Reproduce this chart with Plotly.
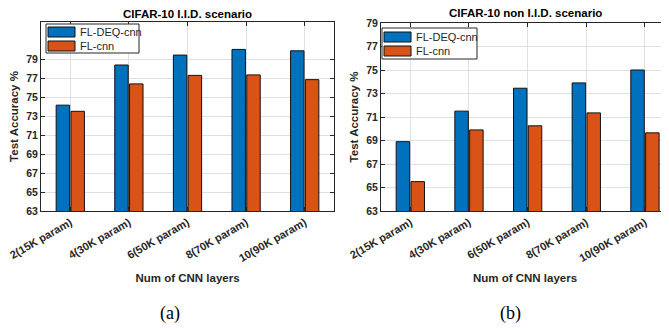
import plotly.graph_objects as go

# ---- data ----
categories = ["2(15K param)", "4(30K param)", "6(50K param)", "8(70K param)", "10(90K param)"]
series_names = ["FL-DEQ-cnn", "FL-cnn"]
iid_deq = [74.2, 78.45, 79.5, 80.1, 79.95]
iid_cnn = [73.55, 76.45, 77.35, 77.4, 76.9]
noniid_deq = [68.9, 71.5, 73.45, 73.9, 75.0]
noniid_cnn = [65.5, 69.9, 70.25, 71.35, 69.65]
iid_ticks = [63, 65, 67, 69, 71, 73, 75, 77, 79]
noniid_ticks = [63, 65, 67, 69, 71, 73, 75, 77, 79]
titles = ["CIFAR-10 I.I.D. scenario", "CIFAR-10 non I.I.D. scenario"]
x_title = "Num of CNN layers"
y_title = "Test Accuracy %"
sub_labels = ["(a)", "(b)"]

# page is 669x330; the figure div sits at the default 8px body margin
OFF = 8
W, H = 669 - OFF, 330 - OFF
BLUE = "#0072BD"
ORANGE = "#D95319"
AX = "#262626"
GRID = "#e0e0e0"
FONT = "Liberation Sans"


def px(x):
    return (x - OFF) / W


def py(y):
    return 1 - (y - OFF) / H


fig = go.Figure()
colors = [BLUE, ORANGE]
for (vals, xa, ya) in [((iid_deq, iid_cnn), "x", "y"), ((noniid_deq, noniid_cnn), "x2", "y2")]:
    for i, v in enumerate(vals):
        fig.add_trace(go.Bar(
            x=categories, y=v, name=series_names[i], xaxis=xa, yaxis=ya,
            marker=dict(color=colors[i], line=dict(color="#111111", width=1)),
            showlegend=False,
        ))

ytickfont = dict(family=FONT, size=10.5, color=AX, weight="bold")
xtickfont = dict(family=FONT, size=11, color=AX, weight="bold")
common_x = dict(type="category", tickangle=-30, ticks="inside", ticklen=4, tickcolor=AX,
                showline=True, linecolor=AX, linewidth=1, showgrid=True, gridcolor=GRID,
                tickfont=xtickfont, zeroline=False, automargin=False,
                title=dict(text=x_title, font=dict(family=FONT, size=11.5, color=AX, weight="bold"), standoff=10))
common_y = dict(ticks="inside", ticklen=4, tickcolor=AX, showline=True, linecolor=AX, linewidth=1,
                showgrid=True, gridcolor=GRID, tickfont=ytickfont, zeroline=False, automargin=False,
                title=dict(text=y_title, font=dict(family=FONT, size=11.5, color=AX, weight="bold"), standoff=5))

fig.update_layout(
    width=W, height=H, margin=dict(l=0, r=0, t=0, b=0, autoexpand=False),
    paper_bgcolor="white", plot_bgcolor="white",
    barmode="group", bargap=0.495, bargroupgap=0.09,
    xaxis=dict(domain=[px(41), px(334)], range=[-0.5, 4.5], anchor="y", mirror="ticks", **common_x),
    yaxis=dict(domain=[py(211), py(22)], range=[63, 83], tickvals=iid_ticks, anchor="x", mirror="ticks", **common_y),
    xaxis2=dict(domain=[px(381), 1.0], range=[-0.5, 4.41], anchor="y2", mirror="ticks", **common_x),
    yaxis2=dict(domain=[py(211), py(23)], range=[63, 79], tickvals=noniid_ticks, anchor="x2", mirror=False, **common_y),
)

# titles and sub labels
for xref, t, ty in [("x domain", titles[0], 14), ("x2 domain", titles[1], 13)]:
    fig.add_annotation(text=t, xref=xref, x=0.5, yref="paper", y=py(ty), showarrow=False,
                       font=dict(family=FONT, size=11.5, color="black", weight="bold"),
                       xanchor="center", yanchor="middle")
fig.add_annotation(text=sub_labels[0], xref="paper", x=px(170), yref="paper", y=py(313), showarrow=False,
                   font=dict(family="Liberation Serif", size=18, color="black"), xanchor="center", yanchor="middle")
fig.add_annotation(text=sub_labels[1], xref="paper", x=px(510), yref="paper", y=py(313), showarrow=False,
                   font=dict(family="Liberation Serif", size=18, color="black"), xanchor="center", yanchor="middle")

# manual legends (MATLAB-style wide patches)
legends = [
    dict(box=(46, 24, 139, 53), patches=[(48, 27, 75, 37), (48, 41, 75, 51)], tx=78),
    dict(box=(382, 28, 477, 59), patches=[(384, 32, 411, 42), (384, 46, 411, 56)], tx=414),
]
for lg in legends:
    x0, y0, x1, y1 = lg["box"]
    fig.add_shape(type="rect", xref="paper", yref="paper", x0=px(x0), x1=px(x1), y0=py(y1), y1=py(y0),
                  line=dict(color=AX, width=1), fillcolor="white", layer="above")
    for i, (a, b, c, d) in enumerate(lg["patches"]):
        fig.add_shape(type="rect", xref="paper", yref="paper", x0=px(a), x1=px(c), y0=py(d), y1=py(b),
                      line=dict(color="#111111", width=1), fillcolor=colors[i], layer="above")
        fig.add_annotation(text=series_names[i], xref="paper", yref="paper", x=px(lg["tx"]), y=py((b + d) / 2),
                           showarrow=False, xanchor="left", yanchor="middle",
                           font=dict(family=FONT, size=11, color=AX))

fig.write_html("out.html")
